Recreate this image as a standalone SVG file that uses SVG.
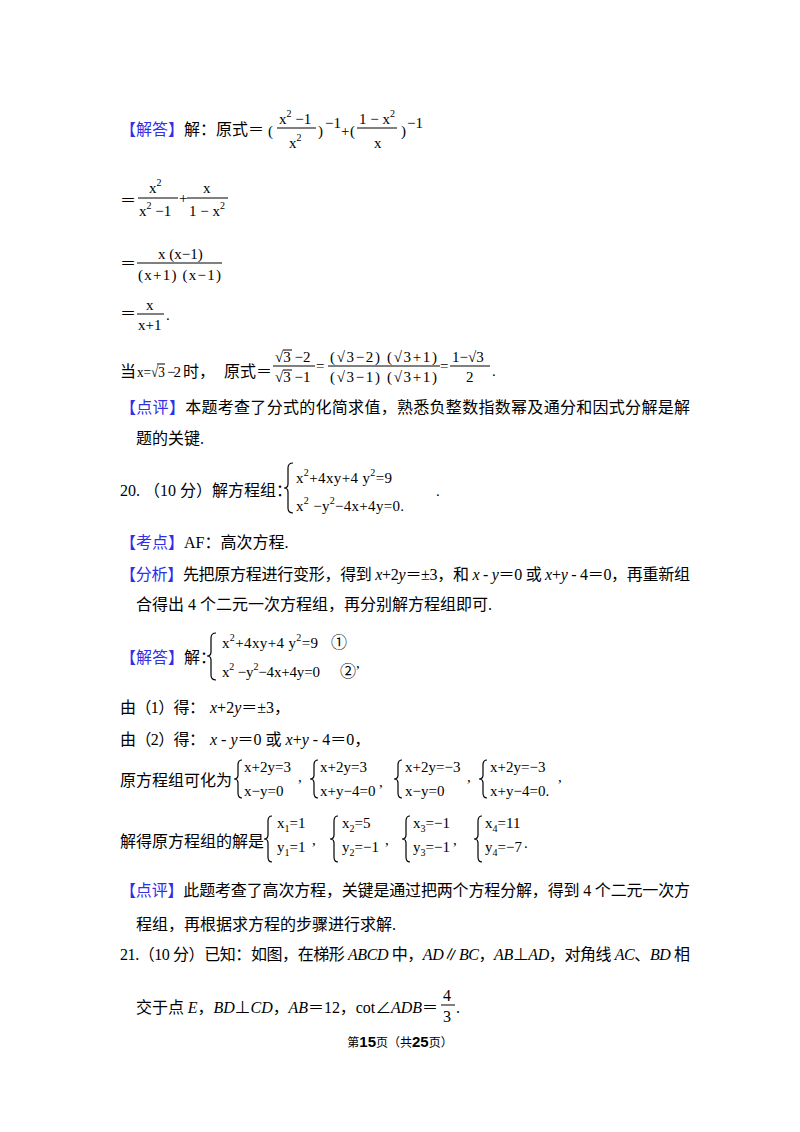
<svg xmlns="http://www.w3.org/2000/svg" width="800" height="1132" viewBox="0 0 800 1132">
<style>
.t{font-family:"Liberation Serif","Noto Sans CJK SC",serif;font-size:16px;fill:#000}
.b{fill:#2f2fe8}
.m{font-family:"Liberation Serif","Noto Sans CJK SC",serif;font-size:15px;fill:#000}
.i{font-family:"Liberation Serif",serif;font-style:italic}
.s{font-size:10px}
.fl{stroke:#000;stroke-width:1}
.br{fill:none;stroke:#000;stroke-width:1.2}
.ft{font-family:"Noto Sans CJK SC",sans-serif;font-size:12px;fill:#000}
.bd{font-family:"Liberation Sans",sans-serif;font-weight:bold;font-size:15px}
</style>
<rect width="800" height="1132" fill="#fff"/>

<g id="line1">
<text class="t" x="120" y="135"><tspan class="b">【解答】</tspan>解：原式＝</text>
<text class="m" x="268" y="136">(</text>
<text class="m" x="279" y="124">x<tspan class="s" dy="-7">2</tspan><tspan dy="7"> −1</tspan></text>
<line class="fl" x1="277" y1="128" x2="316" y2="128"/>
<text class="m" x="289" y="148">x<tspan class="s" dy="-7">2</tspan></text>
<text class="m" x="318" y="136">)</text>
<text class="m" x="325" y="128" font-size="12">−1</text>
<text class="m" x="341" y="136">+</text>
<text class="m" x="350" y="136">(</text>
<text class="m" x="359" y="124">1 − x<tspan class="s" dy="-7">2</tspan></text>
<line class="fl" x1="357" y1="128" x2="397" y2="128"/>
<text class="m" x="374" y="148">x</text>
<text class="m" x="401" y="136">)</text>
<text class="m" x="407" y="128" font-size="12">−1</text>
</g>

<g id="line2">
<text class="t" x="120" y="206">＝</text>
<text class="m" x="149" y="193">x<tspan class="s" dy="-7">2</tspan></text>
<line class="fl" x1="138" y1="198" x2="178" y2="198"/>
<text class="m" x="139" y="216">x<tspan class="s" dy="-7">2</tspan><tspan dy="7"> −1</tspan></text>
<text class="m" x="179" y="203" font-size="13">+</text>
<text class="m" x="203" y="193">x</text>
<line class="fl" x1="187" y1="198" x2="228" y2="198"/>
<text class="m" x="189" y="216">1 − x<tspan class="s" dy="-7">2</tspan></text>
</g>

<g id="line3">
<text class="t" x="120" y="269">＝</text>
<text class="m" x="158" y="259">x (x−1)</text>
<line class="fl" x1="137" y1="263" x2="222" y2="263"/>
<text class="m" x="138" y="280" textLength="83">(x+1) (x−1)</text>
</g>

<g id="line4">
<text class="t" x="120" y="319">＝</text>
<text class="m" x="146" y="310">x</text>
<line class="fl" x1="137" y1="314" x2="164" y2="314"/>
<text class="m" x="138" y="330">x+1</text>
<text class="m" x="166" y="320">.</text>
</g>

<g id="line5">
<text class="t" x="120" y="377">当</text>
<text class="m" x="137" y="377" textLength="28" lengthAdjust="spacingAndGlyphs">x=√3</text>
<line class="fl" x1="157" y1="364" x2="165" y2="364"/>
<text class="m" x="167" y="377" textLength="14">−2</text>
<text class="t" x="183" y="377">时，</text>
<text class="t" x="224" y="377">原式＝</text>
<text class="m" x="275" y="362">√3 −2</text>
<line class="fl" x1="283" y1="350" x2="292" y2="350"/>
<line class="fl" x1="273" y1="366" x2="315" y2="366"/>
<text class="m" x="275" y="382">√3 −1</text>
<line class="fl" x1="283" y1="370" x2="292" y2="370"/>
<text class="m" x="316" y="371" font-size="13">=</text>
<text class="m" x="330" y="362" textLength="107">(√3−2) (√3+1)</text>
<line class="fl" x1="328" y1="366" x2="440" y2="366"/>
<text class="m" x="330" y="382" textLength="107">(√3−1) (√3+1)</text>
<text class="m" x="440" y="371" font-size="13">=</text>
<text class="m" x="452" y="362">1−√3</text>
<line class="fl" x1="450" y1="366" x2="490" y2="366"/>
<text class="m" x="466" y="382">2</text>
<text class="m" x="492" y="376">.</text>
</g>

<g id="review1">
<text class="t" x="120" y="413" textLength="570" lengthAdjust="spacing"><tspan class="b">【点评】</tspan>本题考查了分式的化简求值，熟悉负整数指数幂及通分和因式分解是解</text>
<text class="t" x="136" y="444">题的关键.</text>
</g>

<g id="q20">
<text class="t" x="120" y="496">20.  （10 分）解方程组：</text>
<path class="br" d="M293 463 Q288 463 288 468 L288 484 Q288 488 284 488 Q288 488 288 492 L288 508 Q288 513 293 513"/>
<text class="m" x="296" y="483" textLength="96">x<tspan class="s" dy="-7">2</tspan><tspan dy="7">+4xy+4 y</tspan><tspan class="s" dy="-7">2</tspan><tspan dy="7">=9</tspan></text>
<text class="m" x="296" y="511" textLength="108">x<tspan class="s" dy="-7">2</tspan><tspan dy="7"> −y</tspan><tspan class="s" dy="-7">2</tspan><tspan dy="7">−4x+4y=0.</tspan></text>
<text class="m" x="436" y="496">.</text>
</g>

<g id="kaodian">
<text class="t" x="120" y="548"><tspan class="b">【考点】</tspan>AF：高次方程.</text>
</g>

<g id="fenxi">
<text class="t" x="120" y="580" textLength="570" lengthAdjust="spacing"><tspan class="b">【分析】</tspan>先把原方程进行变形，得到 <tspan class="i">x</tspan>+2<tspan class="i">y</tspan>＝±3，和 <tspan class="i">x</tspan> - <tspan class="i">y</tspan>＝0 或 <tspan class="i">x</tspan>+<tspan class="i">y</tspan> - 4＝0，再重新组</text>
<text class="t" x="136" y="610">合得出 4 个二元一次方程组，再分别解方程组即可.</text>
</g>

<g id="jieda2">
<text class="t" x="120" y="663"><tspan class="b">【解答】</tspan>解：</text>
<path class="br" d="M216 633 Q211 633 211 638 L211 652 Q211 656 207 656 Q211 656 211 660 L211 675 Q211 680 216 680"/>
<text class="m" x="222" y="648" textLength="96">x<tspan class="s" dy="-7">2</tspan><tspan dy="7">+4xy+4 y</tspan><tspan class="s" dy="-7">2</tspan><tspan dy="7">=9</tspan></text>
<text class="m" x="222" y="677" textLength="98">x<tspan class="s" dy="-7">2</tspan><tspan dy="7"> −y</tspan><tspan class="s" dy="-7">2</tspan><tspan dy="7">−4x+4y=0</tspan></text>
<text class="t" x="331" y="648">①</text>
<text class="t" x="340" y="677">②</text>
<text class="m" x="356" y="668">,</text>
</g>

<g id="step1">
<text class="t" x="120" y="713" textLength="85" lengthAdjust="spacing">由（1）得：</text>
<text class="t" x="210" y="713"><tspan class="i">x</tspan>+2<tspan class="i">y</tspan>＝±3，</text>
</g>

<g id="step2">
<text class="t" x="120" y="745" textLength="85" lengthAdjust="spacing">由（2）得：</text>
<text class="t" x="210" y="745"><tspan class="i">x</tspan> - <tspan class="i">y</tspan>＝0 或 <tspan class="i">x</tspan>+<tspan class="i">y</tspan> - 4＝0，</text>
</g>

<g id="step3">
<text class="t" x="120" y="786">原方程组可化为</text>
<path class="br" d="M242 760 Q238 760 238 765 L238 775 Q238 779 234 779 Q238 779 238 783 L238 793 Q238 798 242 798"/>
<text class="m" x="244" y="772">x+2y=3</text>
<text class="m" x="244" y="796">x−y=0</text>
<text class="m" x="298" y="782">,</text>
<path class="br" d="M318 760 Q314 760 314 765 L314 775 Q314 779 310 779 Q314 779 314 783 L314 793 Q314 798 318 798"/>
<text class="m" x="320" y="772">x+2y=3</text>
<text class="m" x="320" y="796">x+y−4=0</text>
<text class="m" x="379" y="787">,</text>
<path class="br" d="M402 760 Q398 760 398 765 L398 775 Q398 779 394 779 Q398 779 398 783 L398 793 Q398 798 402 798"/>
<text class="m" x="405" y="772">x+2y=−3</text>
<text class="m" x="405" y="796">x−y=0</text>
<text class="m" x="467" y="782">,</text>
<path class="br" d="M487 760 Q483 760 483 765 L483 775 Q483 779 479 779 Q483 779 483 783 L483 793 Q483 798 487 798"/>
<text class="m" x="490" y="772">x+2y=−3</text>
<text class="m" x="490" y="796">x+y−4=0.</text>
<text class="m" x="558" y="782">,</text>
</g>

<g id="step4">
<text class="t" x="120" y="847">解得原方程组的解是</text>
<path class="br" d="M272 816 Q268 816 268 821 L268 835 Q268 839 264 839 Q268 839 268 843 L268 857 Q268 862 272 862"/>
<text class="m" x="277" y="828">x<tspan class="s" dy="4">1</tspan><tspan dy="-4">=1</tspan></text>
<text class="m" x="277" y="852">y<tspan class="s" dy="4">1</tspan><tspan dy="-4">=1</tspan></text>
<text class="m" x="312" y="845">,</text>
<path class="br" d="M338 816 Q334 816 334 821 L334 835 Q334 839 330 839 Q334 839 334 843 L334 857 Q334 862 338 862"/>
<text class="m" x="342" y="828">x<tspan class="s" dy="4">2</tspan><tspan dy="-4">=5</tspan></text>
<text class="m" x="342" y="852">y<tspan class="s" dy="4">2</tspan><tspan dy="-4">=−1</tspan></text>
<text class="m" x="385" y="845">,</text>
<path class="br" d="M410 816 Q406 816 406 821 L406 835 Q406 839 402 839 Q406 839 406 843 L406 857 Q406 862 410 862"/>
<text class="m" x="413" y="828">x<tspan class="s" dy="4">3</tspan><tspan dy="-4">=−1</tspan></text>
<text class="m" x="413" y="852">y<tspan class="s" dy="4">3</tspan><tspan dy="-4">=−1</tspan></text>
<text class="m" x="453" y="845">,</text>
<path class="br" d="M482 816 Q478 816 478 821 L478 835 Q478 839 474 839 Q478 839 478 843 L478 857 Q478 862 482 862"/>
<text class="m" x="485" y="828">x<tspan class="s" dy="4">4</tspan><tspan dy="-4">=11</tspan></text>
<text class="m" x="485" y="852">y<tspan class="s" dy="4">4</tspan><tspan dy="-4">=−7</tspan></text>
<text class="m" x="524" y="848">.</text>
</g>

<g id="review2">
<text class="t" x="120" y="896" textLength="570" lengthAdjust="spacing"><tspan class="b">【点评】</tspan>此题考查了高次方程，关键是通过把两个方程分解，得到 4 个二元一次方</text>
<text class="t" x="136" y="930">程组，再根据求方程的步骤进行求解.</text>
</g>

<g id="q21">
<text class="t" x="120" y="960" textLength="570" lengthAdjust="spacing">21.（10 分）已知：如图，在梯形 <tspan class="i">ABCD</tspan> 中，<tspan class="i">AD</tspan>∥<tspan class="i">BC</tspan>，<tspan class="i">AB</tspan>⊥<tspan class="i">AD</tspan>，对角线 <tspan class="i">AC</tspan>、<tspan class="i">BD</tspan> 相</text>
<text class="t" x="136" y="1013" textLength="302" lengthAdjust="spacing">交于点 <tspan class="i">E</tspan>，<tspan class="i">BD</tspan>⊥<tspan class="i">CD</tspan>，<tspan class="i">AB</tspan>＝12，cot∠<tspan class="i">ADB</tspan>＝</text>
<text class="t" x="443" y="1001">4</text>
<line class="fl" x1="441" y1="1005" x2="455" y2="1005"/>
<text class="t" x="443" y="1022">3</text>
<text class="t" x="456" y="1013">.</text>
</g>

<g id="footer">
<text class="ft" x="400" y="1047" text-anchor="middle">第<tspan class="bd">15</tspan>页（共<tspan class="bd">25</tspan>页）</text>
</g>
</svg>
